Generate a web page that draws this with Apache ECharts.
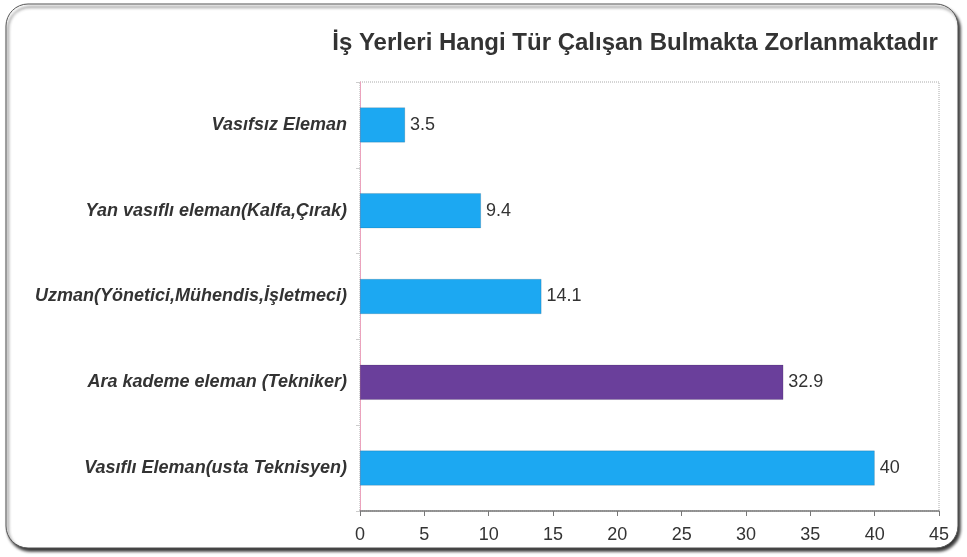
<!DOCTYPE html>
<html><head><meta charset="utf-8">
<script src="https://cdn.jsdelivr.net/npm/echarts@6/dist/echarts.min.js"></script>
<style>html,body{margin:0;padding:0;background:#fff;}#c{width:967px;height:557px;}</style>
</head><body><div id="c"></div>
<script>
const categories = ["Vasıfsız Eleman","Yan vasıflı eleman(Kalfa,Çırak)","Uzman(Yönetici,Mühendis,İşletmeci)","Ara kademe eleman (Tekniker)","Vasıflı Eleman(usta Teknisyen)"];
const values = [3.5, 9.4, 14.1, 32.9, 40];
const barColors = ["#1CA8F2","#1CA8F2","#1CA8F2","#6A3F9B","#1CA8F2"];
const titleText = "İş Yerleri Hangi Tür Çalışan Bulmakta Zorlanmaktadır";

const chart = echarts.init(document.getElementById('c'), null, {renderer:'canvas'});
chart.setOption({
  backgroundColor:'#fff',
  animation:false,
  graphic:[{
    type:'rect', z:-10,
    shape:{x:6,y:4,width:952,height:544,r:22},
    style:{fill:'#fff',stroke:'#555',lineWidth:1,shadowColor:'rgba(0,0,0,0.8)',shadowBlur:3,shadowOffsetX:2,shadowOffsetY:3}
  }],
  title:{text:titleText,left:630,textAlign:'center',top:26,
    textStyle:{fontFamily:'Liberation Sans, Arial, sans-serif',fontWeight:'bold',fontSize:24,color:'#333'}},
  grid:{left:360,right:28,top:82,bottom:46,show:true,borderColor:'#aaa',borderWidth:1,borderType:'dotted',backgroundColor:'transparent'},
  xAxis:{type:'value',min:0,max:45,interval:5,
    axisLine:{show:true,lineStyle:{color:'#777',width:1.5}},
    axisTick:{show:true,length:5,lineStyle:{color:'#777'}},
    splitLine:{show:false},
    axisLabel:{fontFamily:'Liberation Sans, Arial, sans-serif',fontSize:18,color:'#333',margin:15}},
  yAxis:{type:'category',data:categories,inverse:true,
    axisLine:{show:true,lineStyle:{color:'#EBA3BD',width:1}},
    axisTick:{show:true,length:4,lineStyle:{color:'#ccc'}},
    axisLabel:{fontFamily:'Liberation Sans, Arial, sans-serif',fontSize:18,fontWeight:'bold',fontStyle:'italic',color:'#333',margin:13}},
  series:[{type:'bar',barWidth:35,
    data:values.map((v,i)=>({value:v,itemStyle:{color:barColors[i]}})),
    itemStyle:{borderColor:'rgba(0,0,0,0.25)',borderWidth:0.5},
    label:{show:true,position:'right',distance:5,fontFamily:'Liberation Sans, Arial, sans-serif',fontSize:18,color:'#333'}}]
});
</script></body></html>
